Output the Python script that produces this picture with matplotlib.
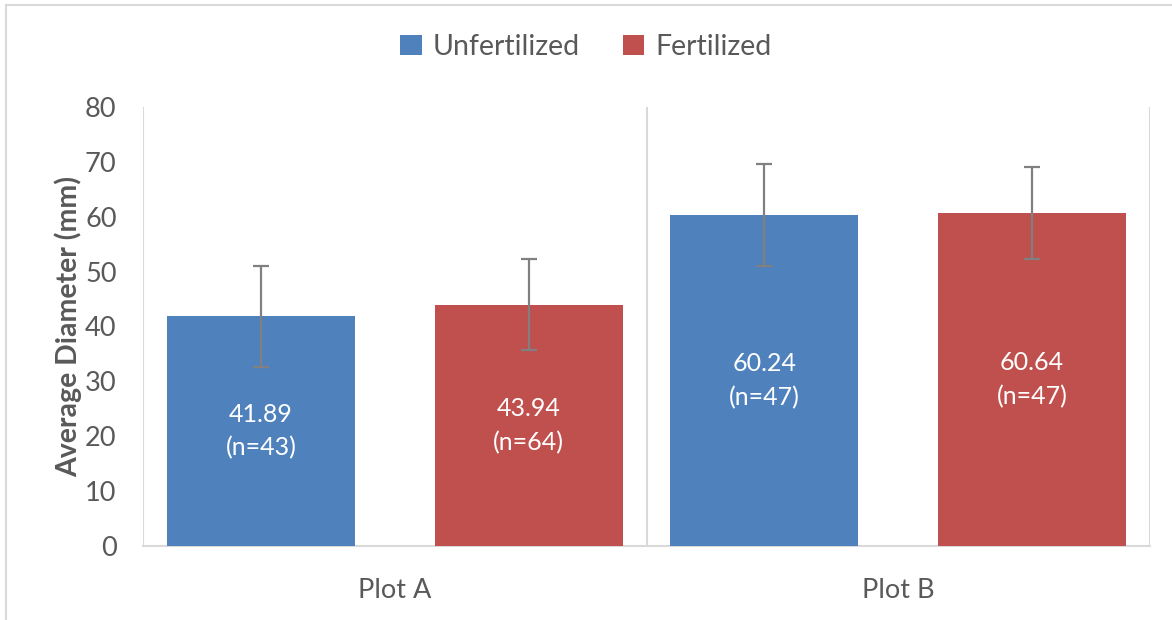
import matplotlib
matplotlib.use("Agg")
import matplotlib.pyplot as plt
from matplotlib.lines import Line2D
from matplotlib.patches import Patch
import numpy as np

categories = ["Plot A", "Plot B"]
series_names = ["Unfertilized", "Fertilized"]
unfertilized = [41.89, 60.24]
fertilized = [43.94, 60.64]
unfert_err = [9.2, 9.3]
fert_err = [8.3, 8.4]
unfert_n = [43, 47]
fert_n = [64, 47]
yticks = [0, 10, 20, 30, 40, 50, 60, 70, 80]

plt.rcParams['font.family'] = ['Lato', 'DejaVu Sans']
txt = "#595959"
colors = ["#4F81BD", "#C0504D"]
grid_c = "#D9D9D9"

fig = plt.figure(figsize=(11.72, 6.2), dpi=100)
ax = fig.add_axes([143/1172, 74/620, 1007/1172, 439/620])

x = np.arange(len(categories))
w = 0.373
off = 0.266
for vals, errs, ns, c, sgn in [(unfertilized, unfert_err, unfert_n, colors[0], -1),
                                (fertilized, fert_err, fert_n, colors[1], 1)]:
    xs = x + sgn * off
    ax.bar(xs, vals, width=w, color=c, zorder=2)
    ax.errorbar(xs, vals, yerr=errs, fmt='none', ecolor="#808080",
                elinewidth=1.6, capsize=6, capthick=1.6, zorder=3)
    for xi, v, n in zip(xs, vals, ns):
        ax.text(xi, v / 2, f"{v:.2f}\n(n={n})", ha='center', va='center',
                color='white', fontsize=18, linespacing=1.55, zorder=4)

ax.set_xlim(-0.5, len(categories) - 0.5)
ax.set_ylim(0, 80)
ax.set_yticks(yticks)
ax.set_xticks(x)
ax.set_xticklabels(categories)
for b in np.arange(-0.5, len(categories), 1.0):
    ax.axvline(b, color=grid_c, lw=1.5, zorder=1)
for s in ax.spines.values():
    s.set_visible(False)
ax.axhline(0, color=grid_c, lw=1.5, zorder=1, clip_on=False)
ax.tick_params(axis='both', length=0, labelsize=19.5, colors=txt)
ax.tick_params(axis='x', pad=23)
ax.tick_params(axis='y', pad=19)
ax.set_ylabel("Average Diameter (mm)", fontsize=20.5, fontweight='bold', color=txt, labelpad=2)

handles = [Patch(facecolor=c, edgecolor='none') for c in colors]
fig.legend(handles, series_names, loc='center', bbox_to_anchor=(0.5, 1 - 47/620),
           ncol=2, frameon=False, fontsize=20.5, labelcolor=txt,
           handlelength=0.75, handleheight=0.75, handletextpad=0.4, columnspacing=1.5)

# chart area border (top and left visible)
fig.add_artist(Line2D([6/1172, 6/1172], [0, 1 - 5/620], transform=fig.transFigure, color=grid_c, lw=1.5))
fig.add_artist(Line2D([6/1172, 1], [1 - 5/620, 1 - 5/620], transform=fig.transFigure, color=grid_c, lw=1.5))

fig.savefig("out.png", dpi=100)
